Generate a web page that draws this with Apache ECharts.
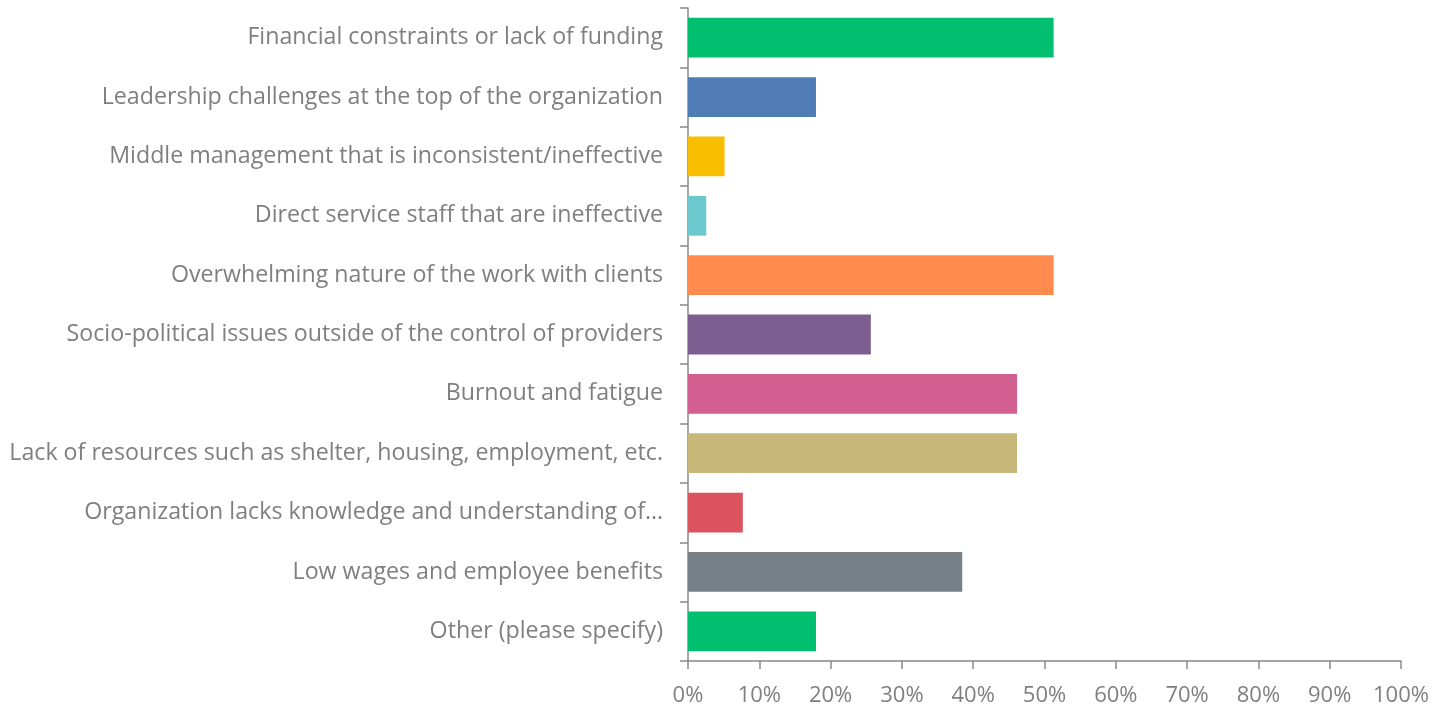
<!DOCTYPE html>
<html>
<head>
<meta charset="utf-8">
<script src="https://cdn.jsdelivr.net/npm/echarts@6/dist/echarts.min.js"></script>
<style>
  html, body { margin: 0; padding: 0; background: #fff; }
  #chart { width: 1441px; height: 708px; }
</style>
</head>
<body>
<div id="chart"></div>
<script>
// Survey responses: challenges faced by organizations (share of respondents)
const categories = [
  'Financial constraints or lack of funding',
  'Leadership challenges at the top of the organization',
  'Middle management that is inconsistent/ineffective',
  'Direct service staff that are ineffective',
  'Overwhelming nature of the work with clients',
  'Socio-political issues outside of the control of providers',
  'Burnout and fatigue',
  'Lack of resources such as shelter, housing, employment, etc.',
  'Organization lacks knowledge and understanding of\u2026',
  'Low wages and employee benefits',
  'Other (please specify)'
];
const percentages = [51.28, 17.95, 5.13, 2.56, 51.28, 25.64, 46.15, 46.15, 7.69, 38.46, 17.95];
const barColors = ['#00BF6F', '#507CB6', '#F9BE00', '#6BC8CD', '#FF8B4F', '#7D5E90', '#D25F90', '#C7B879', '#DC5360', '#768086', '#00BF6F'];
const xTicks = [0, 10, 20, 30, 40, 50, 60, 70, 80, 90, 100];

const chart = echarts.init(document.getElementById('chart'), null, { renderer: 'canvas' });
const fontFamily = '"Open Sans", "Liberation Sans", sans-serif';
const textColor = '#7F7F7F';
const axisColor = '#888888';

chart.setOption({
  animation: false,
  grid: { left: 688, right: 40, top: 8, bottom: 47, containLabel: false },
  xAxis: {
    type: 'value',
    min: xTicks[0],
    max: xTicks[xTicks.length - 1],
    interval: 10,
    axisLine: { show: true, lineStyle: { color: axisColor, width: 1.5 } },
    axisTick: { show: true, length: 8, lineStyle: { color: axisColor, width: 1.5 } },
    splitLine: { show: false },
    axisLabel: {
      margin: 24,
      color: textColor,
      fontFamily: fontFamily,
      fontSize: 22,
      formatter: v => v + '%'
    }
  },
  yAxis: {
    type: 'category',
    inverse: true,
    data: categories,
    axisLine: { show: true, lineStyle: { color: axisColor, width: 1.5 } },
    axisTick: { show: true, length: 8, lineStyle: { color: axisColor, width: 1.5 } },
    axisLabel: {
      margin: 25,
      color: textColor,
      fontFamily: fontFamily,
      fontSize: 23.2
    }
  },
  series: [{
    type: 'bar',
    data: percentages.map((v, i) => ({ value: v, itemStyle: { color: barColors[i] } })),
    barCategoryGap: '33%'
  }]
});
</script>
</body>
</html>
